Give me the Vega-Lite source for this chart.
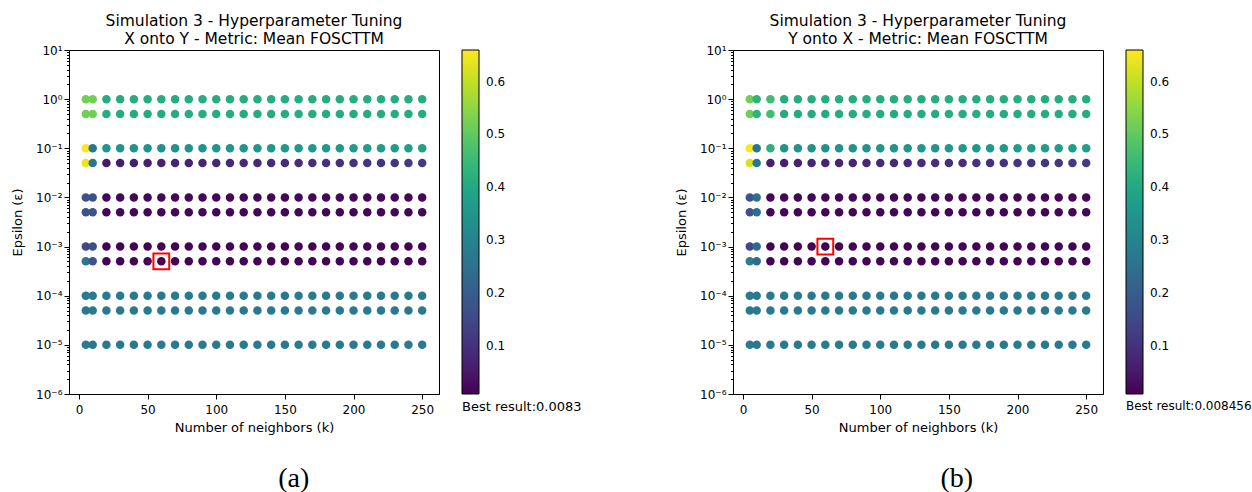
{
"$schema": "https://vega.github.io/schema/vega-lite/v6.json",
"background": "white",
"padding": {"left": 11, "top": 13, "right": 0, "bottom": 0},
"config": {
  "font": "DejaVu Sans",
  "view": {"stroke": "black", "strokeWidth": 1},
  "axis": {"domainColor": "black", "tickColor": "black", "labelColor": "black", "titleColor": "black", "grid": false, "labelFont": "DejaVu Sans", "titleFont": "DejaVu Sans", "labelFontSize": 12, "titleFontSize": 13, "titleFontWeight": "normal", "tickSize": 5, "labelPadding": 3},
  "legend": {"labelFont": "DejaVu Sans", "titleFont": "DejaVu Sans", "labelColor": "black", "titleColor": "black"},
  "title": {"font": "DejaVu Sans", "fontSize": 15.5, "fontWeight": "normal", "color": "black"}
},
"resolve": {"scale": {"color": "independent"}, "legend": {"color": "independent"}},
"spacing": 92,
"datasets": {
"a": [
{"k":5,"e":1,"v":0.52},{"k":10,"e":1,"v":0.52},{"k":20,"e":1,"v":0.41},{"k":30,"e":1,"v":0.41},{"k":40,"e":1,"v":0.41},{"k":50,"e":1,"v":0.41},{"k":60,"e":1,"v":0.41},{"k":70,"e":1,"v":0.41},{"k":80,"e":1,"v":0.41},{"k":90,"e":1,"v":0.41},{"k":100,"e":1,"v":0.41},{"k":110,"e":1,"v":0.41},{"k":120,"e":1,"v":0.41},{"k":130,"e":1,"v":0.41},{"k":140,"e":1,"v":0.41},{"k":150,"e":1,"v":0.41},{"k":160,"e":1,"v":0.41},{"k":170,"e":1,"v":0.41},{"k":180,"e":1,"v":0.41},{"k":190,"e":1,"v":0.41},{"k":200,"e":1,"v":0.41},{"k":210,"e":1,"v":0.41},{"k":220,"e":1,"v":0.41},{"k":230,"e":1,"v":0.41},{"k":240,"e":1,"v":0.41},{"k":250,"e":1,"v":0.41},
{"k":5,"e":0.5,"v":0.52},{"k":10,"e":0.5,"v":0.52},{"k":20,"e":0.5,"v":0.41},{"k":30,"e":0.5,"v":0.41},{"k":40,"e":0.5,"v":0.41},{"k":50,"e":0.5,"v":0.41},{"k":60,"e":0.5,"v":0.41},{"k":70,"e":0.5,"v":0.41},{"k":80,"e":0.5,"v":0.41},{"k":90,"e":0.5,"v":0.41},{"k":100,"e":0.5,"v":0.41},{"k":110,"e":0.5,"v":0.41},{"k":120,"e":0.5,"v":0.41},{"k":130,"e":0.5,"v":0.41},{"k":140,"e":0.5,"v":0.41},{"k":150,"e":0.5,"v":0.41},{"k":160,"e":0.5,"v":0.41},{"k":170,"e":0.5,"v":0.41},{"k":180,"e":0.5,"v":0.41},{"k":190,"e":0.5,"v":0.41},{"k":200,"e":0.5,"v":0.41},{"k":210,"e":0.5,"v":0.41},{"k":220,"e":0.5,"v":0.41},{"k":230,"e":0.5,"v":0.41},{"k":240,"e":0.5,"v":0.41},{"k":250,"e":0.5,"v":0.41},
{"k":5,"e":0.1,"v":0.655},{"k":10,"e":0.1,"v":0.27},{"k":20,"e":0.1,"v":0.35},{"k":30,"e":0.1,"v":0.345},{"k":40,"e":0.1,"v":0.34},{"k":50,"e":0.1,"v":0.34},{"k":60,"e":0.1,"v":0.34},{"k":70,"e":0.1,"v":0.34},{"k":80,"e":0.1,"v":0.345},{"k":90,"e":0.1,"v":0.345},{"k":100,"e":0.1,"v":0.35},{"k":110,"e":0.1,"v":0.35},{"k":120,"e":0.1,"v":0.35},{"k":130,"e":0.1,"v":0.355},{"k":140,"e":0.1,"v":0.355},{"k":150,"e":0.1,"v":0.36},{"k":160,"e":0.1,"v":0.36},{"k":170,"e":0.1,"v":0.36},{"k":180,"e":0.1,"v":0.365},{"k":190,"e":0.1,"v":0.365},{"k":200,"e":0.1,"v":0.37},{"k":210,"e":0.1,"v":0.37},{"k":220,"e":0.1,"v":0.37},{"k":230,"e":0.1,"v":0.375},{"k":240,"e":0.1,"v":0.375},{"k":250,"e":0.1,"v":0.38},
{"k":5,"e":0.05,"v":0.64},{"k":10,"e":0.05,"v":0.27},{"k":20,"e":0.05,"v":0.05},{"k":30,"e":0.05,"v":0.055},{"k":40,"e":0.05,"v":0.06},{"k":50,"e":0.05,"v":0.062},{"k":60,"e":0.05,"v":0.065},{"k":70,"e":0.05,"v":0.068},{"k":80,"e":0.05,"v":0.07},{"k":90,"e":0.05,"v":0.072},{"k":100,"e":0.05,"v":0.075},{"k":110,"e":0.05,"v":0.078},{"k":120,"e":0.05,"v":0.08},{"k":130,"e":0.05,"v":0.082},{"k":140,"e":0.05,"v":0.085},{"k":150,"e":0.05,"v":0.088},{"k":160,"e":0.05,"v":0.09},{"k":170,"e":0.05,"v":0.092},{"k":180,"e":0.05,"v":0.095},{"k":190,"e":0.05,"v":0.098},{"k":200,"e":0.05,"v":0.1},{"k":210,"e":0.05,"v":0.103},{"k":220,"e":0.05,"v":0.106},{"k":230,"e":0.05,"v":0.11},{"k":240,"e":0.05,"v":0.114},{"k":250,"e":0.05,"v":0.118},
{"k":5,"e":0.01,"v":0.17},{"k":10,"e":0.01,"v":0.17},{"k":20,"e":0.01,"v":0.018},{"k":30,"e":0.01,"v":0.018},{"k":40,"e":0.01,"v":0.018},{"k":50,"e":0.01,"v":0.018},{"k":60,"e":0.01,"v":0.018},{"k":70,"e":0.01,"v":0.018},{"k":80,"e":0.01,"v":0.018},{"k":90,"e":0.01,"v":0.018},{"k":100,"e":0.01,"v":0.018},{"k":110,"e":0.01,"v":0.018},{"k":120,"e":0.01,"v":0.018},{"k":130,"e":0.01,"v":0.018},{"k":140,"e":0.01,"v":0.018},{"k":150,"e":0.01,"v":0.018},{"k":160,"e":0.01,"v":0.018},{"k":170,"e":0.01,"v":0.018},{"k":180,"e":0.01,"v":0.018},{"k":190,"e":0.01,"v":0.018},{"k":200,"e":0.01,"v":0.018},{"k":210,"e":0.01,"v":0.018},{"k":220,"e":0.01,"v":0.018},{"k":230,"e":0.01,"v":0.018},{"k":240,"e":0.01,"v":0.018},{"k":250,"e":0.01,"v":0.018},
{"k":5,"e":0.005,"v":0.17},{"k":10,"e":0.005,"v":0.17},{"k":20,"e":0.005,"v":0.015},{"k":30,"e":0.005,"v":0.015},{"k":40,"e":0.005,"v":0.015},{"k":50,"e":0.005,"v":0.015},{"k":60,"e":0.005,"v":0.015},{"k":70,"e":0.005,"v":0.015},{"k":80,"e":0.005,"v":0.015},{"k":90,"e":0.005,"v":0.015},{"k":100,"e":0.005,"v":0.015},{"k":110,"e":0.005,"v":0.015},{"k":120,"e":0.005,"v":0.015},{"k":130,"e":0.005,"v":0.015},{"k":140,"e":0.005,"v":0.015},{"k":150,"e":0.005,"v":0.015},{"k":160,"e":0.005,"v":0.015},{"k":170,"e":0.005,"v":0.015},{"k":180,"e":0.005,"v":0.015},{"k":190,"e":0.005,"v":0.015},{"k":200,"e":0.005,"v":0.015},{"k":210,"e":0.005,"v":0.015},{"k":220,"e":0.005,"v":0.015},{"k":230,"e":0.005,"v":0.015},{"k":240,"e":0.005,"v":0.015},{"k":250,"e":0.005,"v":0.015},
{"k":5,"e":0.001,"v":0.15},{"k":10,"e":0.001,"v":0.16},{"k":20,"e":0.001,"v":0.012},{"k":30,"e":0.001,"v":0.012},{"k":40,"e":0.001,"v":0.012},{"k":50,"e":0.001,"v":0.012},{"k":60,"e":0.001,"v":0.012},{"k":70,"e":0.001,"v":0.012},{"k":80,"e":0.001,"v":0.012},{"k":90,"e":0.001,"v":0.012},{"k":100,"e":0.001,"v":0.012},{"k":110,"e":0.001,"v":0.012},{"k":120,"e":0.001,"v":0.012},{"k":130,"e":0.001,"v":0.012},{"k":140,"e":0.001,"v":0.012},{"k":150,"e":0.001,"v":0.012},{"k":160,"e":0.001,"v":0.012},{"k":170,"e":0.001,"v":0.012},{"k":180,"e":0.001,"v":0.012},{"k":190,"e":0.001,"v":0.012},{"k":200,"e":0.001,"v":0.012},{"k":210,"e":0.001,"v":0.012},{"k":220,"e":0.001,"v":0.012},{"k":230,"e":0.001,"v":0.012},{"k":240,"e":0.001,"v":0.012},{"k":250,"e":0.001,"v":0.012},
{"k":5,"e":0.0005,"v":0.27},{"k":10,"e":0.0005,"v":0.17},{"k":20,"e":0.0005,"v":0.011},{"k":30,"e":0.0005,"v":0.011},{"k":40,"e":0.0005,"v":0.011},{"k":50,"e":0.0005,"v":0.011},{"k":60,"e":0.0005,"v":0.0083},{"k":70,"e":0.0005,"v":0.011},{"k":80,"e":0.0005,"v":0.011},{"k":90,"e":0.0005,"v":0.011},{"k":100,"e":0.0005,"v":0.011},{"k":110,"e":0.0005,"v":0.011},{"k":120,"e":0.0005,"v":0.011},{"k":130,"e":0.0005,"v":0.011},{"k":140,"e":0.0005,"v":0.011},{"k":150,"e":0.0005,"v":0.011},{"k":160,"e":0.0005,"v":0.011},{"k":170,"e":0.0005,"v":0.011},{"k":180,"e":0.0005,"v":0.011},{"k":190,"e":0.0005,"v":0.011},{"k":200,"e":0.0005,"v":0.011},{"k":210,"e":0.0005,"v":0.011},{"k":220,"e":0.0005,"v":0.011},{"k":230,"e":0.0005,"v":0.011},{"k":240,"e":0.0005,"v":0.011},{"k":250,"e":0.0005,"v":0.011},
{"k":5,"e":0.0001,"v":0.275},{"k":10,"e":0.0001,"v":0.275},{"k":20,"e":0.0001,"v":0.275},{"k":30,"e":0.0001,"v":0.275},{"k":40,"e":0.0001,"v":0.275},{"k":50,"e":0.0001,"v":0.275},{"k":60,"e":0.0001,"v":0.275},{"k":70,"e":0.0001,"v":0.275},{"k":80,"e":0.0001,"v":0.275},{"k":90,"e":0.0001,"v":0.275},{"k":100,"e":0.0001,"v":0.275},{"k":110,"e":0.0001,"v":0.275},{"k":120,"e":0.0001,"v":0.275},{"k":130,"e":0.0001,"v":0.275},{"k":140,"e":0.0001,"v":0.275},{"k":150,"e":0.0001,"v":0.275},{"k":160,"e":0.0001,"v":0.275},{"k":170,"e":0.0001,"v":0.275},{"k":180,"e":0.0001,"v":0.275},{"k":190,"e":0.0001,"v":0.275},{"k":200,"e":0.0001,"v":0.275},{"k":210,"e":0.0001,"v":0.275},{"k":220,"e":0.0001,"v":0.275},{"k":230,"e":0.0001,"v":0.275},{"k":240,"e":0.0001,"v":0.275},{"k":250,"e":0.0001,"v":0.275},
{"k":5,"e":0.00005,"v":0.275},{"k":10,"e":0.00005,"v":0.275},{"k":20,"e":0.00005,"v":0.275},{"k":30,"e":0.00005,"v":0.275},{"k":40,"e":0.00005,"v":0.275},{"k":50,"e":0.00005,"v":0.275},{"k":60,"e":0.00005,"v":0.275},{"k":70,"e":0.00005,"v":0.275},{"k":80,"e":0.00005,"v":0.275},{"k":90,"e":0.00005,"v":0.275},{"k":100,"e":0.00005,"v":0.275},{"k":110,"e":0.00005,"v":0.275},{"k":120,"e":0.00005,"v":0.275},{"k":130,"e":0.00005,"v":0.275},{"k":140,"e":0.00005,"v":0.275},{"k":150,"e":0.00005,"v":0.275},{"k":160,"e":0.00005,"v":0.275},{"k":170,"e":0.00005,"v":0.275},{"k":180,"e":0.00005,"v":0.275},{"k":190,"e":0.00005,"v":0.275},{"k":200,"e":0.00005,"v":0.275},{"k":210,"e":0.00005,"v":0.275},{"k":220,"e":0.00005,"v":0.275},{"k":230,"e":0.00005,"v":0.275},{"k":240,"e":0.00005,"v":0.275},{"k":250,"e":0.00005,"v":0.275},
{"k":5,"e":0.00001,"v":0.275},{"k":10,"e":0.00001,"v":0.275},{"k":20,"e":0.00001,"v":0.275},{"k":30,"e":0.00001,"v":0.275},{"k":40,"e":0.00001,"v":0.275},{"k":50,"e":0.00001,"v":0.275},{"k":60,"e":0.00001,"v":0.275},{"k":70,"e":0.00001,"v":0.275},{"k":80,"e":0.00001,"v":0.275},{"k":90,"e":0.00001,"v":0.275},{"k":100,"e":0.00001,"v":0.275},{"k":110,"e":0.00001,"v":0.275},{"k":120,"e":0.00001,"v":0.275},{"k":130,"e":0.00001,"v":0.275},{"k":140,"e":0.00001,"v":0.275},{"k":150,"e":0.00001,"v":0.275},{"k":160,"e":0.00001,"v":0.275},{"k":170,"e":0.00001,"v":0.275},{"k":180,"e":0.00001,"v":0.275},{"k":190,"e":0.00001,"v":0.275},{"k":200,"e":0.00001,"v":0.275},{"k":210,"e":0.00001,"v":0.275},{"k":220,"e":0.00001,"v":0.275},{"k":230,"e":0.00001,"v":0.275},{"k":240,"e":0.00001,"v":0.275},{"k":250,"e":0.00001,"v":0.275}
],
"b": [
{"k":5,"e":1,"v":0.52},{"k":10,"e":1,"v":0.43},{"k":20,"e":1,"v":0.46},{"k":30,"e":1,"v":0.41},{"k":40,"e":1,"v":0.41},{"k":50,"e":1,"v":0.41},{"k":60,"e":1,"v":0.41},{"k":70,"e":1,"v":0.41},{"k":80,"e":1,"v":0.41},{"k":90,"e":1,"v":0.41},{"k":100,"e":1,"v":0.41},{"k":110,"e":1,"v":0.41},{"k":120,"e":1,"v":0.41},{"k":130,"e":1,"v":0.41},{"k":140,"e":1,"v":0.41},{"k":150,"e":1,"v":0.41},{"k":160,"e":1,"v":0.41},{"k":170,"e":1,"v":0.41},{"k":180,"e":1,"v":0.41},{"k":190,"e":1,"v":0.41},{"k":200,"e":1,"v":0.41},{"k":210,"e":1,"v":0.41},{"k":220,"e":1,"v":0.41},{"k":230,"e":1,"v":0.41},{"k":240,"e":1,"v":0.41},{"k":250,"e":1,"v":0.41},
{"k":5,"e":0.5,"v":0.52},{"k":10,"e":0.5,"v":0.43},{"k":20,"e":0.5,"v":0.46},{"k":30,"e":0.5,"v":0.41},{"k":40,"e":0.5,"v":0.41},{"k":50,"e":0.5,"v":0.41},{"k":60,"e":0.5,"v":0.41},{"k":70,"e":0.5,"v":0.41},{"k":80,"e":0.5,"v":0.41},{"k":90,"e":0.5,"v":0.41},{"k":100,"e":0.5,"v":0.41},{"k":110,"e":0.5,"v":0.41},{"k":120,"e":0.5,"v":0.41},{"k":130,"e":0.5,"v":0.41},{"k":140,"e":0.5,"v":0.41},{"k":150,"e":0.5,"v":0.41},{"k":160,"e":0.5,"v":0.41},{"k":170,"e":0.5,"v":0.41},{"k":180,"e":0.5,"v":0.41},{"k":190,"e":0.5,"v":0.41},{"k":200,"e":0.5,"v":0.41},{"k":210,"e":0.5,"v":0.41},{"k":220,"e":0.5,"v":0.41},{"k":230,"e":0.5,"v":0.41},{"k":240,"e":0.5,"v":0.41},{"k":250,"e":0.5,"v":0.41},
{"k":5,"e":0.1,"v":0.655},{"k":10,"e":0.1,"v":0.27},{"k":20,"e":0.1,"v":0.42},{"k":30,"e":0.1,"v":0.345},{"k":40,"e":0.1,"v":0.34},{"k":50,"e":0.1,"v":0.34},{"k":60,"e":0.1,"v":0.34},{"k":70,"e":0.1,"v":0.34},{"k":80,"e":0.1,"v":0.345},{"k":90,"e":0.1,"v":0.345},{"k":100,"e":0.1,"v":0.35},{"k":110,"e":0.1,"v":0.35},{"k":120,"e":0.1,"v":0.35},{"k":130,"e":0.1,"v":0.355},{"k":140,"e":0.1,"v":0.355},{"k":150,"e":0.1,"v":0.36},{"k":160,"e":0.1,"v":0.36},{"k":170,"e":0.1,"v":0.36},{"k":180,"e":0.1,"v":0.365},{"k":190,"e":0.1,"v":0.365},{"k":200,"e":0.1,"v":0.37},{"k":210,"e":0.1,"v":0.37},{"k":220,"e":0.1,"v":0.37},{"k":230,"e":0.1,"v":0.375},{"k":240,"e":0.1,"v":0.375},{"k":250,"e":0.1,"v":0.38},
{"k":5,"e":0.05,"v":0.62},{"k":10,"e":0.05,"v":0.27},{"k":20,"e":0.05,"v":0.06},{"k":30,"e":0.05,"v":0.063},{"k":40,"e":0.05,"v":0.066},{"k":50,"e":0.05,"v":0.068},{"k":60,"e":0.05,"v":0.07},{"k":70,"e":0.05,"v":0.072},{"k":80,"e":0.05,"v":0.075},{"k":90,"e":0.05,"v":0.078},{"k":100,"e":0.05,"v":0.08},{"k":110,"e":0.05,"v":0.082},{"k":120,"e":0.05,"v":0.085},{"k":130,"e":0.05,"v":0.088},{"k":140,"e":0.05,"v":0.09},{"k":150,"e":0.05,"v":0.092},{"k":160,"e":0.05,"v":0.095},{"k":170,"e":0.05,"v":0.098},{"k":180,"e":0.05,"v":0.1},{"k":190,"e":0.05,"v":0.103},{"k":200,"e":0.05,"v":0.106},{"k":210,"e":0.05,"v":0.108},{"k":220,"e":0.05,"v":0.11},{"k":230,"e":0.05,"v":0.113},{"k":240,"e":0.05,"v":0.116},{"k":250,"e":0.05,"v":0.12},
{"k":5,"e":0.01,"v":0.17},{"k":10,"e":0.01,"v":0.24},{"k":20,"e":0.01,"v":0.015},{"k":30,"e":0.01,"v":0.015},{"k":40,"e":0.01,"v":0.015},{"k":50,"e":0.01,"v":0.015},{"k":60,"e":0.01,"v":0.015},{"k":70,"e":0.01,"v":0.015},{"k":80,"e":0.01,"v":0.015},{"k":90,"e":0.01,"v":0.015},{"k":100,"e":0.01,"v":0.015},{"k":110,"e":0.01,"v":0.015},{"k":120,"e":0.01,"v":0.015},{"k":130,"e":0.01,"v":0.015},{"k":140,"e":0.01,"v":0.015},{"k":150,"e":0.01,"v":0.015},{"k":160,"e":0.01,"v":0.015},{"k":170,"e":0.01,"v":0.015},{"k":180,"e":0.01,"v":0.015},{"k":190,"e":0.01,"v":0.015},{"k":200,"e":0.01,"v":0.015},{"k":210,"e":0.01,"v":0.015},{"k":220,"e":0.01,"v":0.015},{"k":230,"e":0.01,"v":0.015},{"k":240,"e":0.01,"v":0.015},{"k":250,"e":0.01,"v":0.015},
{"k":5,"e":0.005,"v":0.17},{"k":10,"e":0.005,"v":0.24},{"k":20,"e":0.005,"v":0.013},{"k":30,"e":0.005,"v":0.013},{"k":40,"e":0.005,"v":0.013},{"k":50,"e":0.005,"v":0.013},{"k":60,"e":0.005,"v":0.013},{"k":70,"e":0.005,"v":0.013},{"k":80,"e":0.005,"v":0.013},{"k":90,"e":0.005,"v":0.013},{"k":100,"e":0.005,"v":0.013},{"k":110,"e":0.005,"v":0.013},{"k":120,"e":0.005,"v":0.013},{"k":130,"e":0.005,"v":0.013},{"k":140,"e":0.005,"v":0.013},{"k":150,"e":0.005,"v":0.013},{"k":160,"e":0.005,"v":0.013},{"k":170,"e":0.005,"v":0.013},{"k":180,"e":0.005,"v":0.013},{"k":190,"e":0.005,"v":0.013},{"k":200,"e":0.005,"v":0.013},{"k":210,"e":0.005,"v":0.013},{"k":220,"e":0.005,"v":0.013},{"k":230,"e":0.005,"v":0.013},{"k":240,"e":0.005,"v":0.013},{"k":250,"e":0.005,"v":0.013},
{"k":5,"e":0.001,"v":0.15},{"k":10,"e":0.001,"v":0.23},{"k":20,"e":0.001,"v":0.012},{"k":30,"e":0.001,"v":0.012},{"k":40,"e":0.001,"v":0.012},{"k":50,"e":0.001,"v":0.012},{"k":60,"e":0.001,"v":0.008456},{"k":70,"e":0.001,"v":0.012},{"k":80,"e":0.001,"v":0.012},{"k":90,"e":0.001,"v":0.012},{"k":100,"e":0.001,"v":0.012},{"k":110,"e":0.001,"v":0.012},{"k":120,"e":0.001,"v":0.012},{"k":130,"e":0.001,"v":0.012},{"k":140,"e":0.001,"v":0.012},{"k":150,"e":0.001,"v":0.012},{"k":160,"e":0.001,"v":0.012},{"k":170,"e":0.001,"v":0.012},{"k":180,"e":0.001,"v":0.012},{"k":190,"e":0.001,"v":0.012},{"k":200,"e":0.001,"v":0.012},{"k":210,"e":0.001,"v":0.012},{"k":220,"e":0.001,"v":0.012},{"k":230,"e":0.001,"v":0.012},{"k":240,"e":0.001,"v":0.012},{"k":250,"e":0.001,"v":0.012},
{"k":5,"e":0.0005,"v":0.28},{"k":10,"e":0.0005,"v":0.23},{"k":20,"e":0.0005,"v":0.011},{"k":30,"e":0.0005,"v":0.011},{"k":40,"e":0.0005,"v":0.011},{"k":50,"e":0.0005,"v":0.011},{"k":60,"e":0.0005,"v":0.011},{"k":70,"e":0.0005,"v":0.011},{"k":80,"e":0.0005,"v":0.011},{"k":90,"e":0.0005,"v":0.011},{"k":100,"e":0.0005,"v":0.011},{"k":110,"e":0.0005,"v":0.011},{"k":120,"e":0.0005,"v":0.011},{"k":130,"e":0.0005,"v":0.011},{"k":140,"e":0.0005,"v":0.011},{"k":150,"e":0.0005,"v":0.011},{"k":160,"e":0.0005,"v":0.011},{"k":170,"e":0.0005,"v":0.011},{"k":180,"e":0.0005,"v":0.011},{"k":190,"e":0.0005,"v":0.011},{"k":200,"e":0.0005,"v":0.011},{"k":210,"e":0.0005,"v":0.011},{"k":220,"e":0.0005,"v":0.011},{"k":230,"e":0.0005,"v":0.011},{"k":240,"e":0.0005,"v":0.011},{"k":250,"e":0.0005,"v":0.011},
{"k":5,"e":0.0001,"v":0.275},{"k":10,"e":0.0001,"v":0.275},{"k":20,"e":0.0001,"v":0.275},{"k":30,"e":0.0001,"v":0.275},{"k":40,"e":0.0001,"v":0.275},{"k":50,"e":0.0001,"v":0.275},{"k":60,"e":0.0001,"v":0.275},{"k":70,"e":0.0001,"v":0.275},{"k":80,"e":0.0001,"v":0.275},{"k":90,"e":0.0001,"v":0.275},{"k":100,"e":0.0001,"v":0.275},{"k":110,"e":0.0001,"v":0.275},{"k":120,"e":0.0001,"v":0.275},{"k":130,"e":0.0001,"v":0.275},{"k":140,"e":0.0001,"v":0.275},{"k":150,"e":0.0001,"v":0.275},{"k":160,"e":0.0001,"v":0.275},{"k":170,"e":0.0001,"v":0.275},{"k":180,"e":0.0001,"v":0.275},{"k":190,"e":0.0001,"v":0.275},{"k":200,"e":0.0001,"v":0.275},{"k":210,"e":0.0001,"v":0.275},{"k":220,"e":0.0001,"v":0.275},{"k":230,"e":0.0001,"v":0.275},{"k":240,"e":0.0001,"v":0.275},{"k":250,"e":0.0001,"v":0.275},
{"k":5,"e":0.00005,"v":0.275},{"k":10,"e":0.00005,"v":0.275},{"k":20,"e":0.00005,"v":0.275},{"k":30,"e":0.00005,"v":0.275},{"k":40,"e":0.00005,"v":0.275},{"k":50,"e":0.00005,"v":0.275},{"k":60,"e":0.00005,"v":0.275},{"k":70,"e":0.00005,"v":0.275},{"k":80,"e":0.00005,"v":0.275},{"k":90,"e":0.00005,"v":0.275},{"k":100,"e":0.00005,"v":0.275},{"k":110,"e":0.00005,"v":0.275},{"k":120,"e":0.00005,"v":0.275},{"k":130,"e":0.00005,"v":0.275},{"k":140,"e":0.00005,"v":0.275},{"k":150,"e":0.00005,"v":0.275},{"k":160,"e":0.00005,"v":0.275},{"k":170,"e":0.00005,"v":0.275},{"k":180,"e":0.00005,"v":0.275},{"k":190,"e":0.00005,"v":0.275},{"k":200,"e":0.00005,"v":0.275},{"k":210,"e":0.00005,"v":0.275},{"k":220,"e":0.00005,"v":0.275},{"k":230,"e":0.00005,"v":0.275},{"k":240,"e":0.00005,"v":0.275},{"k":250,"e":0.00005,"v":0.275},
{"k":5,"e":0.00001,"v":0.275},{"k":10,"e":0.00001,"v":0.275},{"k":20,"e":0.00001,"v":0.275},{"k":30,"e":0.00001,"v":0.275},{"k":40,"e":0.00001,"v":0.275},{"k":50,"e":0.00001,"v":0.275},{"k":60,"e":0.00001,"v":0.275},{"k":70,"e":0.00001,"v":0.275},{"k":80,"e":0.00001,"v":0.275},{"k":90,"e":0.00001,"v":0.275},{"k":100,"e":0.00001,"v":0.275},{"k":110,"e":0.00001,"v":0.275},{"k":120,"e":0.00001,"v":0.275},{"k":130,"e":0.00001,"v":0.275},{"k":140,"e":0.00001,"v":0.275},{"k":150,"e":0.00001,"v":0.275},{"k":160,"e":0.00001,"v":0.275},{"k":170,"e":0.00001,"v":0.275},{"k":180,"e":0.00001,"v":0.275},{"k":190,"e":0.00001,"v":0.275},{"k":200,"e":0.00001,"v":0.275},{"k":210,"e":0.00001,"v":0.275},{"k":220,"e":0.00001,"v":0.275},{"k":230,"e":0.00001,"v":0.275},{"k":240,"e":0.00001,"v":0.275},{"k":250,"e":0.00001,"v":0.275}
]
},
"hconcat": [
{
  "title": {"text": "(a)", "orient": "bottom", "anchor": "middle", "frame": "bounds", "font": "Liberation Serif", "fontSize": 28, "offset": 30, "dx": -3},
  "resolve": {"scale": {"color": "independent"}, "legend": {"color": "independent"}},
  "vconcat": [{
    "width": 370, "height": 344,
    "title": {"text": ["Simulation 3 - Hyperparameter Tuning", " X onto Y - Metric: Mean FOSCTTM"], "anchor": "middle", "frame": "group", "lineHeight": 18, "offset": -3},
    "data": {"name": "a"},
    "layer": [
      {"mark": {"type": "point", "shape": "circle", "filled": true, "size": 72, "opacity": 1},
       "encoding": {
         "x": {"field": "k", "type": "quantitative", "scale": {"domain": [-7.25, 262.25], "nice": false, "zero": false}, "axis": {"values": [0, 50, 100, 150, 200, 250], "title": "Number of neighbors (k)", "labelFlush": false, "labelPadding": 5, "titlePadding": 6}},
         "y": {"field": "e", "type": "quantitative", "scale": {"type": "log", "domain": [0.000001, 10], "nice": false},
               "axis": {"title": "Epsilon (ε)", "labelFlush": false, "labelOverlap": false, "titlePadding": 11, "labelPadding": 2,
                 "values": [0.000001,0.000002,0.000003,0.000004,0.000005,0.000006,0.000007,0.000008,0.000009,0.00001,0.00002,0.00003,0.00004,0.00005,0.00006,0.00007,0.00008,0.00009,0.0001,0.0002,0.0003,0.0004,0.0005,0.0006,0.0007,0.0008,0.0009,0.001,0.002,0.003,0.004,0.005,0.006,0.007,0.008,0.009,0.01,0.02,0.03,0.04,0.05,0.06,0.07,0.08,0.09,0.1,0.2,0.3,0.4,0.5,0.6,0.7,0.8,0.9,1,2,3,4,5,6,7,8,9,10],
                 "tickSize": {"condition": {"test": "abs(log(datum.value)/LN10 - round(log(datum.value)/LN10)) < 0.001", "value": 5}, "value": 2.5},
                 "labelExpr": "abs(log(datum.value)/LN10 - round(log(datum.value)/LN10)) < 0.001 ? ('10' + (round(log(datum.value)/LN10) == 1 ? '¹' : round(log(datum.value)/LN10) == 0 ? '⁰' : '⁻' + ['¹','²','³','⁴','⁵','⁶'][-round(log(datum.value)/LN10) - 1])) : ''"}},
         "color": {"field": "v", "type": "quantitative", "scale": {"scheme": "viridis", "domain": [0.0083, 0.66]},
                   "legend": {"title": "Best result:0.0083", "titleOrient": "bottom", "titleAnchor": "start", "direction": "vertical", "gradientLength": 344, "gradientThickness": 17, "gradientStrokeColor": "black", "gradientStrokeWidth": 1, "values": [0.1, 0.2, 0.3, 0.4, 0.5, 0.6], "offset": 23, "labelFontSize": 12, "titleFontSize": 13, "titleFontWeight": "normal", "labelOffset": 7, "titlePadding": 6, "labelOverlap": false, "titleLimit": 300}}
       }},
      {"transform": [{"filter": "datum.k == 60 && datum.e == 0.0005"}],
       "mark": {"type": "point", "shape": "square", "filled": false, "color": "#ff0000", "strokeWidth": 2, "size": 250, "opacity": 1},
       "encoding": {"x": {"field": "k", "type": "quantitative"}, "y": {"field": "e", "type": "quantitative"}}}
    ]
  }]
},
{
  "title": {"text": "(b)", "orient": "bottom", "anchor": "middle", "frame": "bounds", "font": "Liberation Serif", "fontSize": 28, "offset": 30, "dx": -7},
  "resolve": {"scale": {"color": "independent"}, "legend": {"color": "independent"}},
  "vconcat": [{
    "width": 370, "height": 344,
    "title": {"text": ["Simulation 3 - Hyperparameter Tuning", " Y onto X - Metric: Mean FOSCTTM"], "anchor": "middle", "frame": "group", "lineHeight": 18, "offset": -3},
    "data": {"name": "b"},
    "layer": [
      {"mark": {"type": "point", "shape": "circle", "filled": true, "size": 72, "opacity": 1},
       "encoding": {
         "x": {"field": "k", "type": "quantitative", "scale": {"domain": [-7.25, 262.25], "nice": false, "zero": false}, "axis": {"values": [0, 50, 100, 150, 200, 250], "title": "Number of neighbors (k)", "labelFlush": false, "labelPadding": 5, "titlePadding": 6}},
         "y": {"field": "e", "type": "quantitative", "scale": {"type": "log", "domain": [0.000001, 10], "nice": false},
               "axis": {"title": "Epsilon (ε)", "labelFlush": false, "labelOverlap": false, "titlePadding": 11, "labelPadding": 2,
                 "values": [0.000001,0.000002,0.000003,0.000004,0.000005,0.000006,0.000007,0.000008,0.000009,0.00001,0.00002,0.00003,0.00004,0.00005,0.00006,0.00007,0.00008,0.00009,0.0001,0.0002,0.0003,0.0004,0.0005,0.0006,0.0007,0.0008,0.0009,0.001,0.002,0.003,0.004,0.005,0.006,0.007,0.008,0.009,0.01,0.02,0.03,0.04,0.05,0.06,0.07,0.08,0.09,0.1,0.2,0.3,0.4,0.5,0.6,0.7,0.8,0.9,1,2,3,4,5,6,7,8,9,10],
                 "tickSize": {"condition": {"test": "abs(log(datum.value)/LN10 - round(log(datum.value)/LN10)) < 0.001", "value": 5}, "value": 2.5},
                 "labelExpr": "abs(log(datum.value)/LN10 - round(log(datum.value)/LN10)) < 0.001 ? ('10' + (round(log(datum.value)/LN10) == 1 ? '¹' : round(log(datum.value)/LN10) == 0 ? '⁰' : '⁻' + ['¹','²','³','⁴','⁵','⁶'][-round(log(datum.value)/LN10) - 1])) : ''"}},
         "color": {"field": "v", "type": "quantitative", "scale": {"scheme": "viridis", "domain": [0.0083, 0.66]},
                   "legend": {"title": "Best result:0.008456", "titleOrient": "bottom", "titleAnchor": "start", "direction": "vertical", "gradientLength": 344, "gradientThickness": 17, "gradientStrokeColor": "black", "gradientStrokeWidth": 1, "values": [0.1, 0.2, 0.3, 0.4, 0.5, 0.6], "offset": 23, "labelFontSize": 12, "titleFontSize": 12, "titleFontWeight": "normal", "labelOffset": 7, "titlePadding": 6, "labelOverlap": false, "titleLimit": 300}}
       }},
      {"transform": [{"filter": "datum.k == 60 && datum.e == 0.001"}],
       "mark": {"type": "point", "shape": "square", "filled": false, "color": "#ff0000", "strokeWidth": 2, "size": 250, "opacity": 1},
       "encoding": {"x": {"field": "k", "type": "quantitative"}, "y": {"field": "e", "type": "quantitative"}}}
    ]
  }]
}
]
}
